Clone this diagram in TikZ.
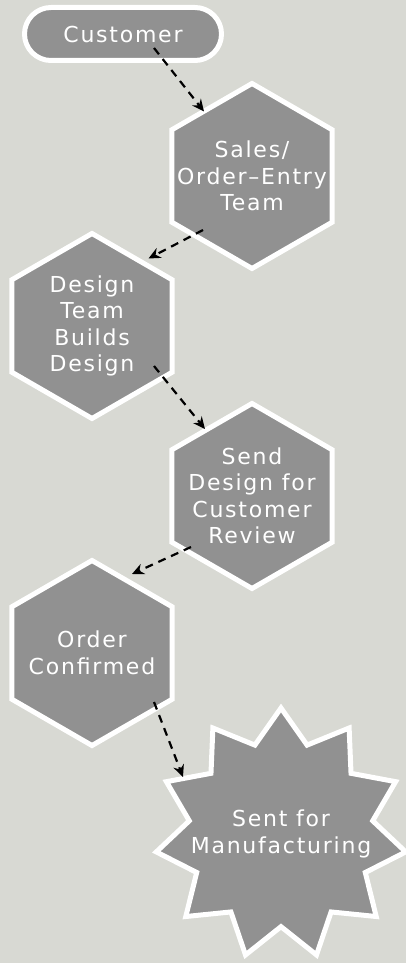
\documentclass[tikz,border=0pt]{standalone}
\usepackage{fontspec}
\setmainfont{DejaVu Sans}[LetterSpace=8]
\usetikzlibrary{shapes.geometric,shapes.misc,arrows.meta}
\definecolor{bgcol}{HTML}{D8D9D3}
\definecolor{nodefill}{HTML}{919191}
\begin{document}
\begin{tikzpicture}[x=1pt,y=-1pt,
  box/.style={draw=white, line width=5pt, fill=nodefill, text=white,
    font=\fontsize{22pt}{26.5pt}\selectfont, align=center, inner sep=0pt},
  stadium/.style={box, rounded rectangle, minimum width=197pt, minimum height=53pt},
  hexa/.style={box, regular polygon, regular polygon sides=6, shape border rotate=30,
    minimum size=185pt, inner sep=-30pt},
  burst/.style={box, star, star points=11, star point ratio=1.36,
    minimum size=252pt, inner sep=-50pt},
  arr/.style={draw=black, line width=2.2pt, dash pattern=on 8pt off 6pt,
    -{Stealth[length=12pt,width=11pt,inset=4pt]}}
]
\fill[bgcol] (0,0) rectangle (406,963);
\useasboundingbox (0,0) rectangle (406,963);

\node[stadium] (cust) at (123,34) {Customer};
\node[hexa] (sales) at (252,176) {Sales/\\Order–Entry\\Team};
\node[hexa] (design) at (92,326) {Design\\Team\\Builds\\Design};
\node[hexa] (send) at (252,496) {Send\\Design for\\Customer\\Review};
\node[hexa] (order) at (92,653) {Order\\Confirmed};
\node[burst] (manu) at (281,834) {Sent for\\Manufacturing};

\draw[arr] ([shift={(31,14)}]cust.center) -- ([shift={(-48,-64.5)}]sales.center);
\draw[arr] ([shift={(-49,54)}]sales.center) -- ([shift={(56.5,-67.5)}]design.center);
\draw[arr] ([shift={(62,40)}]design.center) -- ([shift={(-47,-67)}]send.center);
\draw[arr] ([shift={(-61,51)}]send.center) -- ([shift={(40,-79)}]order.center);
\draw[arr] ([shift={(62,49)}]order.center) -- ([shift={(-98,-57)}]manu.center);
\end{tikzpicture}
\end{document}
